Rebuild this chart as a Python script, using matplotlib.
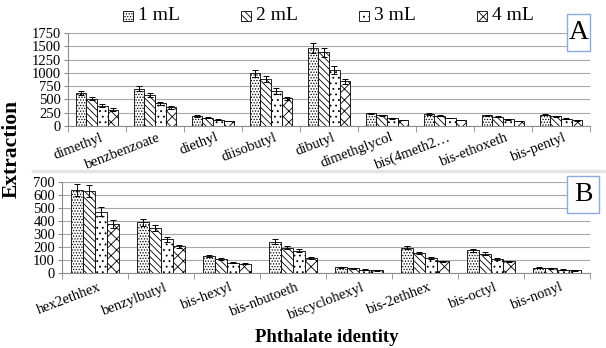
import numpy as np
import matplotlib
matplotlib.use("Agg")
import matplotlib.pyplot as plt
from matplotlib.patches import Rectangle
from matplotlib.lines import Line2D

plt.rcParams["font.family"] = ["Liberation Serif", "DejaVu Serif"]
plt.rcParams["hatch.linewidth"] = 0.6

volumes = ["1 mL", "2 mL", "3 mL", "4 mL"]
hatches = ["......", "\\\\\\\\\\", "...", "xxx"]

cats_a = ["dimethyl", "benzbenzoate", "diethyl", "diisobutyl", "dibutyl",
          "dimethglycol", "bis(4meth2\u2026", "bis-ethoxeth", "bis-pentyl"]
vals_a = [
    [620, 700, 190, 990, 1465, 240, 225, 200, 210],
    [510, 580, 155, 880, 1390, 200, 190, 170, 180],
    [385, 430, 120, 660, 1050, 145, 150, 125, 135],
    [310, 350, 95, 520, 840, 110, 110, 95, 105],
]
err_a = [
    [35, 45, 15, 65, 90, 12, 12, 10, 12],
    [30, 40, 10, 60, 85, 10, 10, 9, 10],
    [25, 30, 8, 55, 70, 8, 8, 7, 8],
    [20, 25, 7, 35, 50, 6, 6, 5, 6],
]

cats_b = ["hex2ethhex", "benzylbutyl", "bis-hexyl", "bis-nbutoeth",
          "biscyclohexyl", "bis-2ethhex", "bis-octyl", "bis-nonyl"]
vals_b = [
    [640, 390, 130, 240, 45, 195, 175, 42],
    [630, 345, 105, 195, 35, 155, 150, 35],
    [470, 260, 80, 170, 25, 115, 110, 25],
    [380, 205, 70, 115, 20, 90, 90, 20],
]
err_b = [
    [45, 25, 8, 18, 4, 12, 12, 3],
    [45, 22, 7, 12, 3, 10, 10, 3],
    [35, 18, 5, 12, 2, 8, 8, 2],
    [30, 12, 4, 8, 2, 6, 6, 2],
]

W, H = 606, 348
fig = plt.figure(figsize=(W / 100, H / 100), dpi=100)


def px_axes(left, top, right, bottom):
    return fig.add_axes([left / W, 1 - bottom / H, (right - left) / W, (bottom - top) / H])


def fig_xy(x, y):
    return x / W, 1 - y / H


def draw_panel(ax, cats, vals, errs, ymax, step, pad):
    n = len(cats)
    x = np.arange(n)
    bw = 0.185
    for i in range(4):
        ax.bar(x + (i - 1.5) * bw, vals[i], bw, yerr=errs[i], color="white",
               edgecolor="black", linewidth=0.6, hatch=hatches[i], zorder=3,
               error_kw=dict(elinewidth=0.7, capsize=2, capthick=0.7, ecolor="black"))
    ax.set_xlim(-0.5, n - 0.5)
    ax.set_ylim(0, ymax)
    ax.set_yticks(np.arange(0, ymax + 1, step))
    ax.yaxis.grid(True, color="#a8a8a8", linewidth=0.8, zorder=0)
    ax.set_axisbelow(True)
    for s in ("top", "right"):
        ax.spines[s].set_visible(False)
    for s in ("left", "bottom"):
        ax.spines[s].set_color("#8c8c8c")
        ax.spines[s].set_linewidth(0.8)
    ax.set_xticks(x + 0.05)
    ax.set_xticklabels(cats, rotation=21, ha="right", rotation_mode="anchor", fontsize=10.5)
    ax.tick_params(axis="x", length=0, pad=pad)
    ax.set_xticks(np.arange(n + 1) - 0.5, minor=True)
    ax.tick_params(axis="x", which="minor", length=4, color="#8c8c8c", direction="out")
    ax.tick_params(axis="y", length=3, color="#8c8c8c", labelsize=10.5, pad=2)


ax_a = px_axes(68, 33, 590, 126)
draw_panel(ax_a, cats_a, vals_a, err_a, 1750, 250, pad=3.5)

ax_b = px_axes(62, 182, 590, 273)
draw_panel(ax_b, cats_b, vals_b, err_b, 700, 100, pad=5.5)

# separator between the two panels
fig.add_artist(Line2D([33 / W, 1], [1 - 171 / H] * 2, color="#e4e4e4", linewidth=2.5))

# panel letters
for letter, (l, t, r, b) in [("A", (567, 14, 590, 51)), ("B", (567, 176, 599, 213))]:
    fig.add_artist(Rectangle(fig_xy(l, b), (r - l) / W, (b - t) / H,
                             transform=fig.transFigure, facecolor="white",
                             edgecolor="#8eaadb", linewidth=1))
    fig.text((l + r) / 2 / W, 1 - (t + b) / 2 / H, letter, fontsize=20,
             ha="center", va="center")

# legend row: hatched swatch followed by its label
for i, (lab, h) in enumerate(zip(volumes, hatches)):
    x0 = 123 + i * 118
    fig.add_artist(Rectangle(fig_xy(x0, 21), 10 / W, 10 / H, transform=fig.transFigure,
                             facecolor="white", edgecolor="black", linewidth=0.6, hatch=h))
    fig.text(*fig_xy(x0 + 15, 16), lab, fontsize=14, ha="left", va="center")

fig.text(12 / W, 1 - 149 / H, "Extraction", rotation=90, fontsize=15.5,
         fontweight="bold", ha="center", va="center")
fig.text(327 / W, 1 - 337 / H, "Phthalate identity", fontsize=13.5,
         fontweight="bold", ha="center", va="center")

fig.savefig("out.png", dpi=100, facecolor="white")
